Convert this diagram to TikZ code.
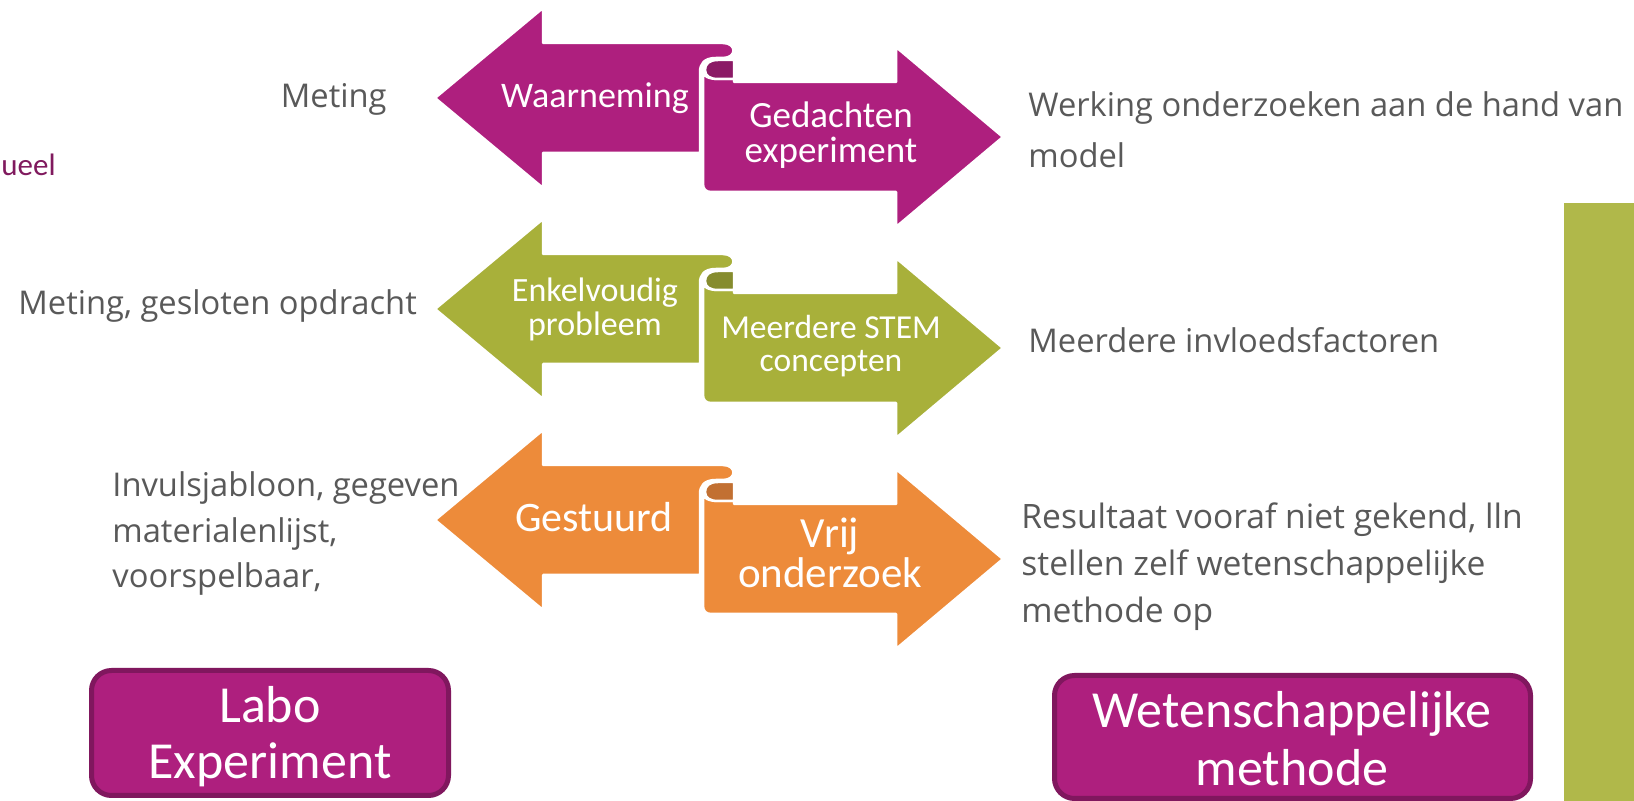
\documentclass[tikz,border=0pt]{standalone}
\usepackage{fontspec}
\setmainfont{Open Sans}
\newfontfamily\carl{Carlito}
\definecolor{pmain}{HTML}{AE1F7E}
\definecolor{pdark}{HTML}{8B1A66}
\definecolor{gmain}{HTML}{A8B03A}
\definecolor{gdark}{HTML}{868C2E}
\definecolor{omain}{HTML}{ED8B3A}
\definecolor{odark}{HTML}{C27032}
\definecolor{barcol}{HTML}{B0B84A}
\definecolor{boxborder}{HTML}{80175E}
\definecolor{txtgray}{HTML}{595959}
\definecolor{ueelcol}{HTML}{801A5E}
\tikzset{
  rib/.style={draw=white, line width=1.25pt, line join=round},
  graytxt/.style={font=\fontsize{16.35pt}{20pt}\selectfont, text=txtgray, inner sep=0pt},
  wt/.style={text=white, inner sep=0pt, anchor=base},
  labelbox/.style={fill=pmain, draw=boxborder, line width=2.5pt, rounded corners=10pt},
}
\newcommand\ribbonrow[3]{%
  \begin{scope}[shift={(0,#1)}]
    \path[rib,fill=#2] (703,72) -- (703,184) .. controls (703,189) and (706,192) .. (711,192)
      -- (896,192) -- (896,227) -- (1003,137) -- (896,47) -- (896,82) -- (734,82) -- (734,79)
      -- (718,79) .. controls (709,79) and (703,76) .. (703,72) -- cycle;
    \path[rib,fill=#3] (734,60) -- (718,60) .. controls (709,60) and (705,64) .. (705,70)
      .. controls (705,76) and (710,79) .. (718,79) -- (734,79) -- cycle;
    \path[rib,fill=#2] (435,98) -- (543,8) -- (543,43) -- (723,43)
      .. controls (737,43) and (737,58) .. (723,58) -- (716,58)
      .. controls (704,58) and (700,64) .. (700,72) -- (700,153) -- (543,153) -- (543,188) -- cycle;
  \end{scope}}
\begin{document}
\begin{tikzpicture}[x=0.5pt,y=-0.5pt]
\useasboundingbox (0,0) rectangle (1634,801);
\fill[white] (0,0) rectangle (1634,801);

% right green bar
\fill[barcol] (1564,203) rectangle (1634,801);

% ribbons
\ribbonrow{0}{pmain}{pdark}
\ribbonrow{211}{gmain}{gdark}
\ribbonrow{422}{omain}{odark}

% row 1 labels
\node[wt,font=\carl\fontsize{18pt}{22pt}\selectfont] (waar) at (595,108) {Waarneming};
\node[wt,font=\carl\fontsize{18.5pt}{22pt}\selectfont] (ged1) at (831,128) {Gedachten};
\node[wt,font=\carl\fontsize{18.5pt}{22pt}\selectfont] (ged2) at (831,163) {experiment};
% row 2 labels
\node[wt,font=\carl\fontsize{17pt}{21pt}\selectfont] (enk1) at (595,302) {Enkelvoudig};
\node[wt,font=\carl\fontsize{17pt}{21pt}\selectfont] (enk2) at (595,336) {probleem};
\node[wt,font=\carl\fontsize{16.75pt}{21pt}\selectfont] (mee1) at (831,339) {Meerdere STEM};
\node[wt,font=\carl\fontsize{16.75pt}{21pt}\selectfont] (mee2) at (831,372) {concepten};
% row 3 labels
\node[wt,font=\carl\fontsize{21pt}{25pt}\selectfont] (gest) at (594,532) {Gestuurd};
\node[wt,font=\carl\fontsize{21.5pt}{25pt}\selectfont] (vrij1) at (830,548) {Vrij};
\node[wt,font=\carl\fontsize{21.5pt}{25pt}\selectfont] (vrij2) at (830,588) {onderzoek};

% side texts
\node[graytxt,anchor=base east] (met) at (387,108) {Meting};
\node[graytxt,anchor=base west] (metg) at (18,315) {Meting, gesloten opdracht};
\node[graytxt,anchor=base west] (werk1) at (1028,117) {Werking onderzoeken aan de hand van};
\node[graytxt,anchor=base west] (werk2) at (1028,168) {model};
\node[graytxt,anchor=base west] (meer) at (1028,353) {Meerdere invloedsfactoren};
\node[graytxt,anchor=base west] (inv1) at (112,497) {Invulsjabloon, gegeven};
\node[graytxt,anchor=base west] (inv2) at (112,543) {materialenlijst,};
\node[graytxt,anchor=base west] (inv3) at (112,588) {voorspelbaar,};
\node[graytxt,anchor=base west,font=\fontsize{16.8pt}{20pt}\selectfont] (res1) at (1021,529) {Resultaat vooraf niet gekend, lln};
\node[graytxt,anchor=base west,font=\fontsize{16.8pt}{20pt}\selectfont] (res2) at (1021,576) {stellen zelf wetenschappelijke};
\node[graytxt,anchor=base west,font=\fontsize{16.8pt}{20pt}\selectfont] (res3) at (1021,623) {methode op};
\node[anchor=base west,inner sep=0pt,text=ueelcol,font=\carl\fontsize{15.5pt}{18pt}\selectfont] (ueel) at (1,176) {ueel};

% bottom boxes
\path[labelbox] (91.5,670.5) rectangle (448.5,795.5);
\node[wt,font=\carl\fontsize{26pt}{30pt}\selectfont] (labo1) at (270,723) {Labo};
\node[wt,font=\carl\fontsize{26pt}{30pt}\selectfont] (labo2) at (270,778) {Experiment};
\path[labelbox] (1054.5,675.5) rectangle (1530.5,798.5);
\node[wt,font=\carl\fontsize{26pt}{30pt}\selectfont] (wet1) at (1292,728) {Wetenschappelijke};
\node[wt,font=\carl\fontsize{26pt}{30pt}\selectfont] (wet2) at (1292,785) {methode};
\end{tikzpicture}
\end{document}
